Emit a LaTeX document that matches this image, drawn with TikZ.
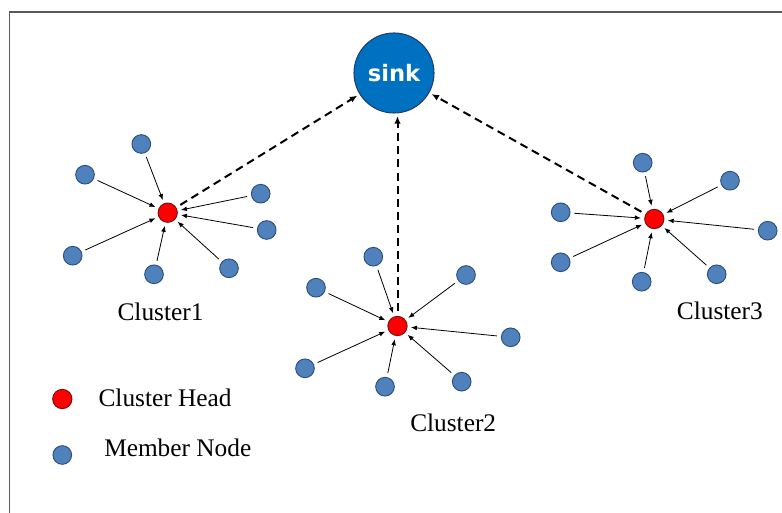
\documentclass[tikz,border=0pt]{standalone}
\usepackage{fontspec}
\setmainfont{Liberation Serif}
\newfontfamily\sinkfont{DejaVu Sans}
\usetikzlibrary{arrows.meta}
\definecolor{memberblue}{HTML}{4F81BD}
\definecolor{memberedge}{HTML}{2F4F78}
\definecolor{sinkblue}{HTML}{0070C0}
\definecolor{sinkedge}{HTML}{1F3F6F}
\definecolor{headedge}{HTML}{7A1010}
\definecolor{framegray}{HTML}{5A5A5A}
\tikzset{
  member/.style={circle, fill=memberblue, draw=memberedge, line width=0.7pt, minimum size=14pt, inner sep=0pt},
  head/.style={circle, fill=red, draw=headedge, line width=0.7pt, minimum size=14.5pt, inner sep=0pt},
  sinknode/.style={circle, fill=sinkblue, draw=sinkedge, line width=0.8pt, minimum size=60pt, inner sep=0pt,
    text=white, font=\sinkfont\bfseries\fontsize{17}{19}\selectfont},
  feed/.style={-{Latex[length=4.5pt,width=3.6pt]}, line width=0.6pt, shorten <=3pt, shorten >=2.5pt},
  uplink/.style={-{Latex[length=5.5pt,width=4.8pt]}, line width=1.5pt, dash pattern=on 6pt off 3.8pt,
    shorten <=3.5pt, shorten >=2pt},
  nametext/.style={anchor=base west, inner sep=0pt, font=\fontsize{19}{22}\selectfont}
}
\begin{document}
\begin{tikzpicture}[x=0.75pt, y=-0.75pt]
\useasboundingbox (0,0) rectangle (782,513);
% frame
\draw[framegray, line width=1.1pt] (9.5,513) -- (9.5,12) -- (782,12);

% sink
\node[sinknode] (sink) at (394,73) {sink};

% cluster 1
\node[head] (h1) at (167.7,212.7) {};
\node[member] (a1) at (141.3,144) {};
\node[member] (a2) at (85,174.7) {};
\node[member] (a3) at (260.7,193.7) {};
\node[member] (a4) at (266.7,230) {};
\node[member] (a5) at (72.7,255.7) {};
\node[member] (a6) at (154,274.3) {};
\node[member] (a7) at (229,268.3) {};
\foreach \m in {a1,a2,a3,a4,a5,a6,a7} \draw[feed] (\m) -- (h1);

% cluster 2
\node[head] (h2) at (397.5,326) {};
\node[member] (b1) at (373.3,256.7) {};
\node[member] (b2) at (316,287.7) {};
\node[member] (b3) at (466,275) {};
\node[member] (b4) at (510.7,337.3) {};
\node[member] (b5) at (305,368.3) {};
\node[member] (b6) at (385,386.7) {};
\node[member] (b7) at (461.7,381.7) {};
\foreach \m in {b1,b2,b3,b4,b5,b6,b7} \draw[feed] (\m) -- (h2);

% cluster 3
\node[head] (h3) at (654.3,219) {};
\node[member] (c1) at (642.7,162.7) {};
\node[member] (c2) at (730,180.7) {};
\node[member] (c3) at (560.7,212.3) {};
\node[member] (c4) at (767.7,230.7) {};
\node[member] (c5) at (560.7,262.3) {};
\node[member] (c6) at (641.7,281.7) {};
\node[member] (c7) at (716.7,274.3) {};
\foreach \m in {c1,c2,c3,c4,c5,c6,c7} \draw[feed] (\m) -- (h3);

% cluster heads report to the sink
\draw[uplink] (h1) -- (sink);
\draw[uplink] (h2) -- (h2 |- sink.south);
\draw[uplink] (h3) -- (sink);

% cluster names
\node[nametext] (l1) at (117.3,320.7) {Cluster1};
\node[nametext] (l2) at (410,431.7) {Cluster2};
\node[nametext] (l3) at (676.7,320) {Cluster3};

% legend
\node[head] (kh) at (62.3,399) {};
\node[nametext] (kht) at (98.3,406.7) {Cluster Head};
\node[member] (km) at (62.3,455) {};
\node[nametext] (kmt) at (104,456.7) {Member Node};
\end{tikzpicture}
\end{document}
